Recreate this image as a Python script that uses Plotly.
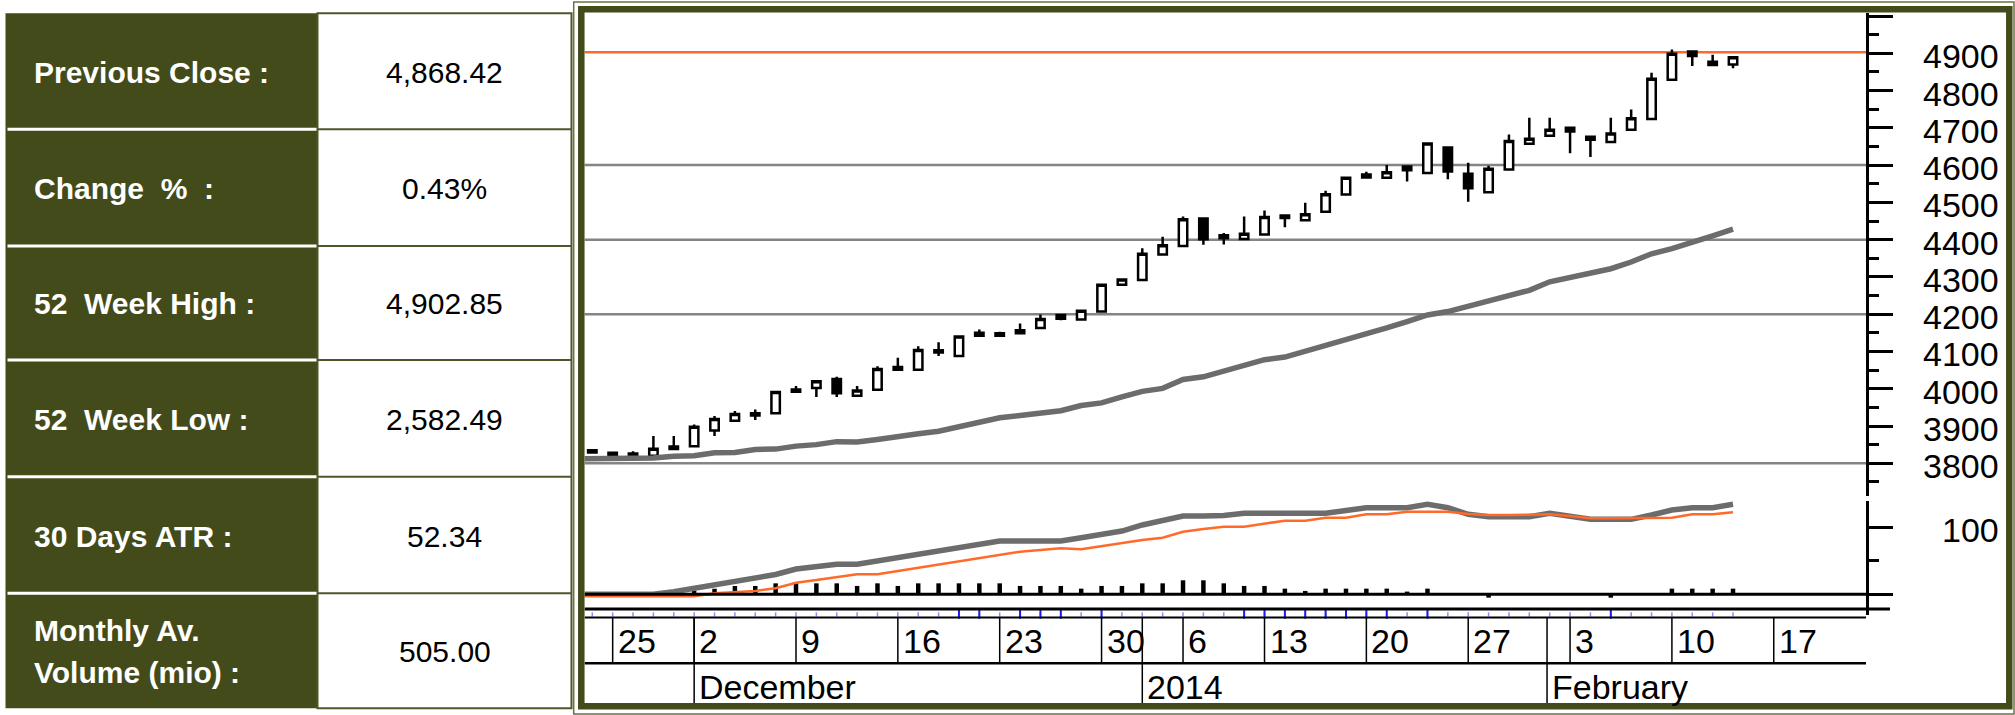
import plotly.graph_objects as go

W, H = 2015, 715

# ---------------- data ----------------
table_labels = ["Previous Close :", "Change\u00a0\u00a0%\u00a0\u00a0:", "52\u00a0\u00a0Week High :",
                "52\u00a0\u00a0Week Low :", "30 Days ATR :", "Monthly Av.|Volume (mio) :"]
table_values = ["4,868.42", "0.43%", "4,902.85", "2,582.49", "52.34", "505.00"]

day = list(range(57))
open_ = [3835, 3828, 3821, 3820, 3838, 3846, 3888, 3914, 3934, 3934,
         3992, 4002, 4026, 3981, 3997, 4051, 4051, 4103, 4088, 4142,
         4142, 4149, 4163, 4198, 4186, 4207, 4279, 4292, 4360, 4383,
         4457, 4412, 4402, 4414, 4465, 4452, 4475, 4521, 4567, 4566,
         4596, 4579, 4647, 4577, 4527, 4588, 4657, 4679, 4700, 4676,
         4662, 4695, 4724, 4829, 4905, 4877, 4870]
high = [3838, 3830, 3832, 3873, 3873, 3904, 3927, 3940, 3944, 3992,
        4007, 4021, 4032, 4007, 4060, 4083, 4114, 4125, 4141, 4159,
        4153, 4175, 4199, 4201, 4212, 4280, 4295, 4377, 4408, 4462,
        4460, 4418, 4462, 4478, 4468, 4499, 4531, 4568, 4582, 4600,
        4599, 4659, 4648, 4606, 4598, 4682, 4727, 4727, 4702, 4678,
        4727, 4749, 4848, 4910, 4908, 4896, 4892]
low = [3826, 3821, 3819, 3818, 3836, 3844, 3873, 3912, 3916, 3933,
       3990, 3978, 3978, 3979, 3996, 4049, 4050, 4088, 4087, 4141,
       4140, 4147, 4162, 4184, 4184, 4205, 4276, 4290, 4358, 4381,
       4386, 4387, 4400, 4412, 4433, 4450, 4473, 4519, 4564, 4564,
       4556, 4577, 4562, 4502, 4525, 4586, 4655, 4677, 4632, 4622,
       4660, 4693, 4722, 4827, 4866, 4867, 4860]
close = [3829, 3823, 3826, 3839, 3845, 3898, 3919, 3932, 3928, 3991,
         3998, 4020, 3988, 3995, 4053, 4058, 4104, 4097, 4140, 4150,
         4149, 4157, 4187, 4188, 4209, 4279, 4293, 4362, 4385, 4455,
         4401, 4404, 4416, 4461, 4458, 4468, 4522, 4566, 4575, 4581,
         4586, 4658, 4583, 4538, 4590, 4665, 4671, 4695, 4690, 4668,
         4685, 4726, 4832, 4899, 4893, 4868.42, 4889.35]

ma_days = list(range(-1, 57))
ma = [3812, 3812, 3812, 3812, 3814, 3819, 3820, 3828, 3829, 3837, 3838,
      3846, 3850, 3858, 3857, 3864, 3870, 3879, 3886, 3898, 3913,
      3922, 3928, 3934, 3941, 3955, 3962, 3978, 3993, 4001, 4025,
      4032, 4047, 4060, 4078, 4085, 4100, 4116, 4132, 4148, 4163,
      4180, 4198, 4207, 4222, 4236, 4250, 4264, 4287, 4298, 4310,
      4322, 4340, 4362, 4376, 4392, 4410, 4428]

osc_days = list(range(-1, 57))
osc_main = [0, 0, 0, 0, 0, 3.9, 8.9, 12.5, 17.5, 24.5, 29.5,
            37.5, 41, 44.6, 44.6, 49.5, 54.4, 59.4, 64.3, 69.2, 74.3,
            79.2, 79.2, 79.2, 79.2, 84.1, 89.1, 94, 103, 110.4, 116.3,
            116.3, 117, 120.3, 120.3, 120.3, 120.3, 120.3, 124.5, 128.7, 128.7,
            128.7, 133.7, 128.7, 118.9, 115.3, 115.3, 115.3, 120.3, 116, 111.4,
            111.4, 111.4, 117.8, 125.3, 128.7, 128.7, 133.7]
osc_signal = [-3, -3, -3, -3, -3, -3, -3, 1.5, 3, 4.9, 8.9,
              17.2, 21.2, 25.2, 29.7, 29.7, 34.6, 39.5, 44.6, 49.5, 54.4,
              59.4, 63.3, 65.8, 68.3, 66.8, 71.8, 76.7, 80.7, 84.1, 93,
              97, 100.4, 100.4, 105.4, 109.4, 109.4, 113.9, 113.9, 118.9, 118.9,
              122.8, 122.8, 122.8, 119.3, 117.8, 117.8, 117.8, 118.9, 116.3, 112.9,
              112.9, 112.9, 113.9, 113.9, 118.9, 118.9, 121.8]
osc_hist = [1.5, 1.5, 1.5, 1.5, 2.5, 5, 8.4, 12.4, 12.4, 16.3,
            16.3, 16.3, 16.3, 12.4, 16.3, 12.4, 16.3, 16.3, 16.3, 16.3,
            16.3, 12.4, 12.4, 12.4, 8.4, 12.4, 12.4, 16.3, 16.3, 20.8,
            20.8, 16.3, 12.4, 12.4, 8.4, 5, 8.4, 8.4, 8.4, 8.4,
            4, 8.4, 1.5, 0, -5, 0, 0, 0, 0, 0,
            -5, 0, 1.5, 8.4, 8.4, 8.4, 8.4]
signal_days = [18, 19, 21, 22, 23, 25, 32, 33, 34, 35, 36, 37, 38, 39, 41, 50]

week_pos = [1, 5, 10, 15, 20, 25, 29, 33, 38, 43, 48, 53, 58]
week_labels = ["25", "2", "9", "16", "23", "30", "6", "13", "20", "27", "3", "10", "17"]
month_pos = [5, 27, 46.87]
month_labels = ["December", "2014", "February"]

high_52w = 4902.85
level_lines = [3800, 4200, 4400, 4600]
price_major = [3800, 3900, 4000, 4100, 4200, 4300, 4400, 4500, 4600, 4700, 4800, 4900, 5000]
price_minor = [3750, 3850, 3950, 4050, 4150, 4250, 4350, 4450, 4550, 4650, 4750, 4850, 4950]
price_labels = ["3800", "3900", "4000", "4100", "4200", "4300", "4400", "4500",
                "4600", "4700", "4800", "4900"]
osc_major = [0, 100]
osc_minor = [50]
osc_labels = ["100"]
osc_label_vals = [100]

# ---------------- geometry / style ----------------
FONT = "Liberation Sans, Arial, Helvetica, sans-serif"
OLIVE = "#434b1b"
OLIVE_LINE = "#4f5628"
GRAY_MA = "#6c6c6c"
ORANGE = "#ff6a28"


def px(x):
    return x / W


def py(y):
    return 1 - y / H


PLOT_L, PLOT_R = 584.7, 1866.0
C0_X, C_STEP = 592.3, 20.37
x_range = [(PLOT_L - C0_X) / C_STEP, (PLOT_R - C0_X) / C_STEP]

P_REF, P_REF_Y, P_PX = 4900, 53.3, 0.3727
PRICE_TOP, PRICE_BOT = 13.0, 496.0
price_range = [P_REF - (PRICE_BOT - P_REF_Y) / P_PX, P_REF + (P_REF_Y - PRICE_TOP) / P_PX]

OSC_ZERO_Y, OSC_PX = 594.3, 0.673
OSC_TOP, OSC_BOT = 501.0, 615.0
osc_range = [-(OSC_BOT - OSC_ZERO_Y) / OSC_PX, (OSC_ZERO_Y - OSC_TOP) / OSC_PX]

AX_TOP, AX_MID, AX_BOT = 617.5, 663.3, 706.0

fig = go.Figure()

# moving average
fig.add_trace(go.Scatter(x=ma_days, y=ma, mode="lines", line=dict(color=GRAY_MA, width=5.5),
                         yaxis="y", xaxis="x", hoverinfo="skip", showlegend=False))
# candles
fig.add_trace(go.Candlestick(
    x=day, open=open_, high=high, low=low, close=close, xaxis="x", yaxis="y",
    increasing=dict(line=dict(color="black", width=2.5), fillcolor="white"),
    decreasing=dict(line=dict(color="black", width=2.5), fillcolor="black"),
    whiskerwidth=0, showlegend=False))
# oscillator histogram
fig.add_trace(go.Bar(x=day, y=osc_hist, width=0.22, marker=dict(color="black", line=dict(width=0)),
                     xaxis="x", yaxis="y2", showlegend=False, hoverinfo="skip"))
# oscillator lines
fig.add_trace(go.Scatter(x=osc_days, y=osc_main, mode="lines", line=dict(color=GRAY_MA, width=5.5),
                         xaxis="x", yaxis="y2", showlegend=False, hoverinfo="skip"))
fig.add_trace(go.Scatter(x=osc_days, y=osc_signal, mode="lines", line=dict(color=ORANGE, width=2.5),
                         xaxis="x", yaxis="y2", showlegend=False, hoverinfo="skip"))
# signal markers
sig_y = osc_range[0] + 0.8
fig.add_trace(go.Scatter(x=day, y=[sig_y] * len(day), mode="markers",
                         marker=dict(symbol="line-ns", size=3, line=dict(color="#8c8cff", width=1.5)),
                         xaxis="x", yaxis="y2", cliponaxis=False, showlegend=False, hoverinfo="skip"))
fig.add_trace(go.Scatter(x=signal_days, y=[sig_y + 1] * len(signal_days), mode="markers",
                         marker=dict(symbol="line-ns", size=7, line=dict(color="#1a1aff", width=2)),
                         xaxis="x", yaxis="y2", cliponaxis=False, showlegend=False, hoverinfo="skip"))

shapes = []
annotations = []

# level lines and 52-week high
for lv in level_lines:
    shapes.append(dict(type="line", xref="paper", yref="y", x0=px(PLOT_L), x1=px(PLOT_R), y0=lv, y1=lv,
                       line=dict(color="#848484", width=2.5), layer="below"))
shapes.append(dict(type="line", xref="paper", yref="y", x0=px(PLOT_L), x1=px(PLOT_R), y0=high_52w, y1=high_52w,
                   line=dict(color=ORANGE, width=2.5), layer="below"))
# oscillator zero line and separators
shapes.append(dict(type="line", xref="paper", yref="y2", x0=px(PLOT_L), x1=px(PLOT_R), y0=0, y1=0,
                   line=dict(color="black", width=3)))
shapes.append(dict(type="line", xref="paper", yref="paper", x0=px(PLOT_L), x1=px(1890), y0=py(609), y1=py(609),
                   line=dict(color="black", width=3)))
# date axis rows
shapes.append(dict(type="line", xref="paper", yref="paper", x0=px(PLOT_L), x1=px(PLOT_R), y0=py(AX_TOP), y1=py(AX_TOP),
                   line=dict(color="black", width=2)))
shapes.append(dict(type="line", xref="paper", yref="paper", x0=px(PLOT_L), x1=px(PLOT_R), y0=py(AX_MID), y1=py(AX_MID),
                   line=dict(color="black", width=2.5)))
for wp, wl in zip(week_pos, week_labels):
    shapes.append(dict(type="line", xref="x", yref="paper", x0=wp, x1=wp, y0=py(AX_TOP), y1=py(AX_MID),
                       line=dict(color="black", width=1.5)))
    annotations.append(dict(x=wp, xref="x", y=py(641), yref="paper", text=wl, showarrow=False,
                            xanchor="left", yanchor="middle", xshift=3,
                            font=dict(family=FONT, size=34, color="black")))
for mp, ml in zip(month_pos, month_labels):
    shapes.append(dict(type="line", xref="x", yref="paper", x0=mp, x1=mp, y0=py(AX_TOP), y1=py(AX_BOT),
                       line=dict(color="black", width=1.5)))
    annotations.append(dict(x=mp, xref="x", y=py(687), yref="paper", text=ml, showarrow=False,
                            xanchor="left", yanchor="middle", xshift=3,
                            font=dict(family=FONT, size=34, color="black")))

# right-axis labels
for v, t in zip(price_major, price_labels):
    annotations.append(dict(x=px(2001), xref="paper", y=v, yref="y", text=t, showarrow=False,
                            xanchor="right", yanchor="middle", yshift=-3,
                            font=dict(family=FONT, size=34, color="black")))
for v, t in zip(osc_label_vals, osc_labels):
    annotations.append(dict(x=px(2001), xref="paper", y=v, yref="y2", text=t, showarrow=False,
                            xanchor="right", yanchor="middle", yshift=-3,
                            font=dict(family=FONT, size=34, color="black")))

# chart frame
shapes.append(dict(type="rect", xref="paper", yref="paper", x0=px(573.7), x1=px(2014), y0=py(714), y1=py(2),
                   line=dict(color="#6a7240", width=1.5)))
shapes.append(dict(type="rect", xref="paper", yref="paper", x0=px(581.3), x1=px(2009.3), y0=py(706.3), y1=py(9.3),
                   line=dict(color=OLIVE, width=6.5)))

# table
row_edges = [13.3, 129.3, 246.0, 360.0, 476.7, 593.3, 708.3]
TL, TM, TR = 5.5, 317.5, 571.5
shapes.append(dict(type="rect", xref="paper", yref="paper", x0=px(TL), x1=px(TM), y0=py(row_edges[-1]),
                   y1=py(row_edges[0]), fillcolor=OLIVE, line=dict(width=0), layer="below"))
shapes.append(dict(type="rect", xref="paper", yref="paper", x0=px(TM), x1=px(TR), y0=py(row_edges[-1]),
                   y1=py(row_edges[0]), fillcolor="white", line=dict(color=OLIVE_LINE, width=2)))
for e in row_edges[1:-1]:
    shapes.append(dict(type="line", xref="paper", yref="paper", x0=px(7.5), x1=px(TM - 1), y0=py(e), y1=py(e),
                       line=dict(color="white", width=3)))
    shapes.append(dict(type="line", xref="paper", yref="paper", x0=px(TM), x1=px(TR), y0=py(e), y1=py(e),
                       line=dict(color=OLIVE_LINE, width=2)))
for i, (lab, val) in enumerate(zip(table_labels, table_values)):
    yc = (row_edges[i] + row_edges[i + 1]) / 2
    lines = lab.split("|")
    n = len(lines)
    for k, ln in enumerate(lines):
        yl = yc + (k - (n - 1) / 2) * 42
        annotations.append(dict(x=px(32), xref="paper", y=py(yl), yref="paper", text=ln, showarrow=False,
                                xanchor="left", yanchor="middle", yshift=-1,
                                font=dict(family=FONT, size=30, color="white", weight="bold")))
    annotations.append(dict(x=px((TM + TR) / 2), xref="paper", y=py(yc), yref="paper", text=val, showarrow=False,
                            xanchor="center", yanchor="middle", yshift=-1,
                            font=dict(family=FONT, size=30, color="black")))

axis_common = dict(side="right", anchor="x", showline=True, linecolor="black", linewidth=2.5,
                   ticks="outside", ticklen=24, tickwidth=2.5, tickcolor="black",
                   showticklabels=False, showgrid=False, zeroline=False, fixedrange=True)

fig.update_layout(
    width=W, height=H, margin=dict(l=0, r=0, t=0, b=0),
    paper_bgcolor="white", plot_bgcolor="rgba(0,0,0,0)",
    showlegend=False, boxgap=0.41,
    xaxis=dict(domain=[px(PLOT_L), px(PLOT_R)], range=x_range, showgrid=False, zeroline=False,
               showline=False, showticklabels=False, ticks="", rangeslider=dict(visible=False),
               anchor="y2", fixedrange=True),
    yaxis=dict(domain=[py(PRICE_BOT), py(PRICE_TOP)], range=price_range, tickmode="array",
               tickvals=price_major,
               minor=dict(tickmode="array", tickvals=price_minor, ticks="outside", ticklen=10,
                          tickwidth=2.5, tickcolor="black", showgrid=False),
               **axis_common),
    yaxis2=dict(domain=[py(OSC_BOT), py(OSC_TOP)], range=osc_range, tickmode="array", tickvals=osc_major,
                minor=dict(tickmode="array", tickvals=osc_minor, ticks="outside", ticklen=10,
                           tickwidth=2.5, tickcolor="black", showgrid=False),
                **axis_common),
    shapes=shapes, annotations=annotations,
)

# page body has a default 8px margin; remove it so the figure sits at the window origin
fig.write_html("out.html", config={"displayModeBar": False},
               post_script="document.body.style.margin='0px';document.body.style.overflow='hidden';")
